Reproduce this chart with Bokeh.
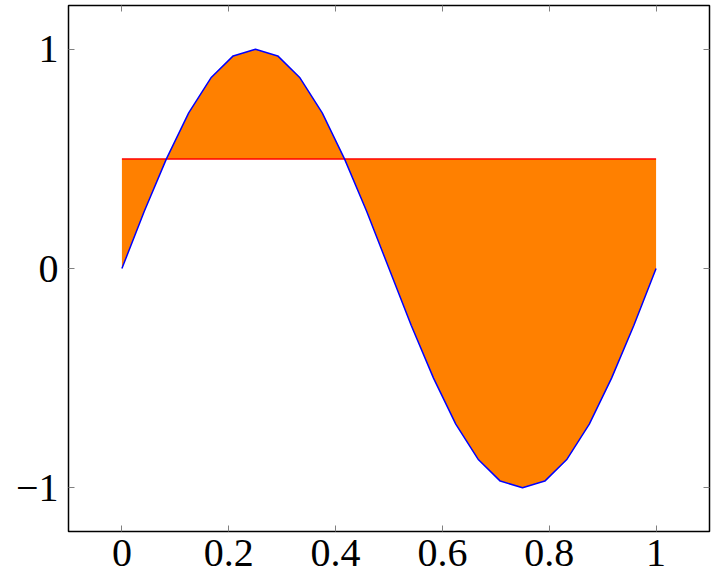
from bokeh.plotting import figure
from bokeh.models import LinearAxis, FixedTicker, Range1d
from bokeh.embed import file_html
from bokeh.resources import INLINE

xs = [0, 0.0417, 0.0833, 0.125, 0.1667, 0.2083, 0.25, 0.2917, 0.3333, 0.375,
      0.4167, 0.4583, 0.5, 0.5417, 0.5833, 0.625, 0.6667, 0.7083, 0.75,
      0.7917, 0.8333, 0.875, 0.9167, 0.9583, 1.0]
ys = [0, 0.26, 0.5, 0.71, 0.87, 0.97, 1.0, 0.97, 0.87, 0.71,
      0.5, 0.26, 0, -0.26, -0.5, -0.71, -0.87, -0.97, -1.0,
      -0.97, -0.87, -0.71, -0.5, -0.26, 0]
level = [0.5] * len(xs)

xticks = [0, 0.2, 0.4, 0.6, 0.8, 1]
xtick_labels = ["0", "0.2", "0.4", "0.6", "0.8", "1"]
yticks = [-1, 0, 1]
ytick_labels = ["\u22121", "0", "1"]

p = figure(width=712, height=576, output_backend="svg", toolbar_location=None,
           x_range=Range1d(-0.1, 1.1), y_range=Range1d(-1.2, 1.2),
           min_border_left=68, min_border_right=3, min_border_top=5, min_border_bottom=45)
p.grid.visible = False
p.outline_line_color = "black"
p.outline_line_width = 1.5

p.varea(x=xs, y1=ys, y2=level, fill_color="#FF8000")
p.line(xs, level, line_color="#FF0000", line_width=1.5)
p.line(xs, ys, line_color="#0000FF", line_width=1.5)

font = "Liberation Serif"
for ax, ticks, labels in ((p.xaxis[0], xticks, xtick_labels), (p.yaxis[0], yticks, ytick_labels)):
    ax.ticker = FixedTicker(ticks=ticks)
    ax.major_label_overrides = dict(zip(ticks, labels))
    ax.minor_tick_line_color = None
    ax.major_tick_in = 6
    ax.major_tick_out = 0
    ax.major_tick_line_color = "#808080"
    ax.axis_line_color = None
    ax.major_label_text_font = font
    ax.major_label_text_font_size = "40px"
    ax.major_label_text_color = "black"
p.xaxis[0].major_label_standoff = 8
p.yaxis[0].major_label_standoff = 10

for loc, ticks in (("right", yticks), ("above", xticks)):
    ax = LinearAxis(ticker=FixedTicker(ticks=ticks),
                    major_label_overrides={t: "" for t in ticks},
                    major_label_text_font_size="1px",
                    major_tick_in=6, major_tick_out=0, major_tick_line_color="#808080",
                    minor_tick_line_color=None, axis_line_color=None, major_label_standoff=0)
    p.add_layout(ax, loc)

open("out.html", "w").write(file_html(p, INLINE))
